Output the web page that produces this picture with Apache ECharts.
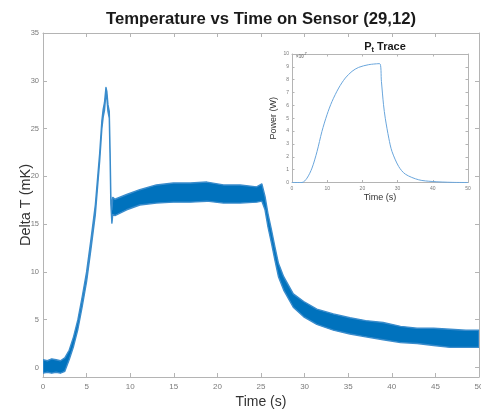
<!DOCTYPE html>
<html><head><meta charset="utf-8">
<script src="https://cdn.jsdelivr.net/npm/echarts@6/dist/echarts.min.js"></script>
<style>html,body{margin:0;padding:0;background:#fff}#c{width:481px;height:413px}</style>
</head><body><div id="c"></div>
<script>
// ---- Main trace: time (s) and the lower / upper edges of the noisy band (mK)
const time = [0,0.5,1,1.5,2,2.5,3,3.5,4,4.5,5,5.5,6,6.5,6.75,6.9,7.05,7.22,7.32,7.45,7.6,7.7,7.78,7.9,8.0,8.25,9.6,11.1,13,14.95,16.9,18.8,20.7,22.6,24.5,25.1,25.46,25.8,26.2,26.6,27.0,27.6,28.7,29.9,31.4,33.3,35.2,37,39,41,42.9,44.8,46.7,48.5,50];
const lowerT = [-0.6,-0.5,-0.6,-0.5,-0.6,-0.4,0.8,2.2,4.0,6.4,9.0,12.4,16.0,21.6,25.0,26.2,26.9,28.7,28.2,26.8,26.1,21.6,17.1,15.1,16.0,15.9,16.5,17.0,17.2,17.3,17.3,17.4,17.2,17.2,17.3,17.4,16.5,14.7,13.0,11.2,9.5,8.1,6.3,5.3,4.5,3.9,3.5,3.2,2.9,2.6,2.5,2.3,2.1,2.1,2.1];
const upperT = [0.8,0.7,0.9,0.8,0.7,1.0,1.8,3.2,5.0,7.4,10.0,13.4,17.0,22.4,25.8,27.0,27.7,29.3,28.9,27.5,26.8,22.4,18.0,16.5,17.8,17.6,18.1,18.6,19.1,19.3,19.3,19.4,19.1,19.1,18.9,19.2,17.9,16.1,14.4,12.6,10.9,9.5,7.7,6.9,6.1,5.6,5.2,4.9,4.7,4.3,4.1,4.1,4.0,3.9,3.9];
const yTicks = [0,5,10,15,20,25,30,35];
// ---- Inset: P_t trace, time (s) and power (x 1e-7 W)
const insetTime = [0,2.84,4.26,5.68,7.1,8.5,9.94,11.36,13.26,15.15,17.05,18.94,21.8,24.9,25.4,26.0,26.5,27.5,28.4,30.3,32.2,36.0,39.8,45.5,50];
const insetPower = [0,0,0.34,1.12,2.4,3.97,5.27,6.3,7.35,8.13,8.65,8.96,9.17,9.25,7.87,6.05,5.0,3.45,2.42,1.25,0.65,0.21,0.08,0.01,0];

const titleText = 'Temperature vs Time on Sensor (29,12)';
const xName = 'Time (s)';
const yName = 'Delta T (mK)';

const blue = '#0072BD';
const axisGray = '#b4b4b4';
const labelGray = '#7a7a7a';
const FONT = 'Liberation Sans, Arial, sans-serif';

const insetData = insetTime.map((t,i)=>[t, insetPower[i]]);

const chart = echarts.init(document.getElementById('c'), null, {renderer:'canvas'});

function mirrorAxis(extra){
  return Object.assign({
    type:'value', axisLine:{show:true,onZero:false,lineStyle:{color:axisGray,width:1}},
    axisTick:{show:true,inside:true,length:4,lineStyle:{color:axisGray}},
    axisLabel:{show:false}, splitLine:{show:false}
  }, extra);
}

// band polygon through the library's scales: upper edge forward, lower edge back
function renderBand(params, api){
  if (params.dataIndex !== 0) return null;
  const pts = [];
  for (let i=0;i<time.length;i++) pts.push(api.coord([time[i], upperT[i]]));
  for (let i=time.length-1;i>=0;i--) pts.push(api.coord([time[i], lowerT[i]]));
  return {type:'polygon', shape:{points:pts},
    style:{fill:blue, stroke:'#3a8ccc', lineWidth:1.4, lineJoin:'round'}};
}

chart.setOption({
  animation:false,
  backgroundColor:'#fff',
  title:[
    {text:titleText, left:256, top:6, textAlign:'center',
     textStyle:{fontFamily:FONT,fontSize:16.7,fontWeight:'bold',color:'#1a1a1a'}},
    {text:'{p|P}{s|t}{p| Trace}', left:380, top:35, textAlign:'center',
     textStyle:{rich:{
       p:{fontFamily:FONT,fontSize:11,fontWeight:'bold',color:'#1a1a1a',lineHeight:14,verticalAlign:'middle'},
       s:{fontFamily:FONT,fontSize:7.5,fontWeight:'bold',color:'#1a1a1a',lineHeight:14,verticalAlign:'bottom'}
     }}},
    {text:'{a|×10}{b|-7}', left:291, top:47,
     textStyle:{rich:{
       a:{fontFamily:FONT,fontSize:4.5,color:labelGray,lineHeight:7,verticalAlign:'bottom'},
       b:{fontFamily:FONT,fontSize:3.5,color:labelGray,lineHeight:7,verticalAlign:'top'}
     }}}
  ],
  grid:[
    {left:43, right:2, top:33, bottom:36, show:false, outerBoundsMode:'none', containLabel:false},
    {left:292, right:13, top:54, bottom:230.5, show:false, outerBoundsMode:'none', containLabel:false}
  ],
  xAxis:[
    {type:'value', gridIndex:0, min:0, max:50, interval:5, position:'bottom',
     name:xName, nameLocation:'middle', nameGap:18, nameMoveOverlap:false,
     nameTextStyle:{fontFamily:FONT,fontSize:14,color:'#333', verticalAlign:'top'},
     axisLine:{show:true,onZero:false,lineStyle:{color:axisGray}},
     axisTick:{show:true,inside:true,length:4,lineStyle:{color:axisGray}},
     axisLabel:{show:true,margin:6,fontSize:8,color:labelGray,fontFamily:FONT,hideOverlap:false},
     splitLine:{show:false}},
    mirrorAxis({gridIndex:0,min:0,max:50,interval:5,position:'top'}),
    {type:'value', gridIndex:1, min:0, max:50, interval:10, position:'bottom',
     name:xName, nameLocation:'middle', nameGap:11, nameMoveOverlap:false,
     nameTextStyle:{fontFamily:FONT,fontSize:9,color:'#333', verticalAlign:'top'},
     axisLine:{show:true,onZero:false,lineStyle:{color:axisGray}},
     axisTick:{show:true,inside:true,length:2.5,lineStyle:{color:axisGray}},
     axisLabel:{show:true,margin:4,fontSize:5,color:labelGray,fontFamily:FONT},
     splitLine:{show:false}},
    mirrorAxis({gridIndex:1,min:0,max:50,interval:10,position:'top',axisTick:{show:true,inside:true,length:2.5,lineStyle:{color:axisGray}}})
  ],
  yAxis:[
    {type:'value', gridIndex:0, min:-1, max:35, position:'left',
     name:yName, nameLocation:'middle', nameGap:10, nameRotate:90, nameMoveOverlap:false,
     nameTextStyle:{fontFamily:FONT,fontSize:14.5,color:'#333'},
     axisLine:{show:true,onZero:false,lineStyle:{color:axisGray}},
     axisTick:{show:true,inside:true,length:4,lineStyle:{color:axisGray},customValues:yTicks},
     axisLabel:{show:true,margin:4,fontSize:7.5,color:labelGray,fontFamily:FONT,customValues:yTicks},
     splitLine:{show:false}},
    mirrorAxis({gridIndex:0,min:-1,max:35,position:'right',
     axisTick:{show:true,inside:true,length:4,lineStyle:{color:axisGray},customValues:yTicks}}),
    {type:'value', gridIndex:1, min:0, max:10, interval:1, position:'left',
     name:'Power (W)', nameLocation:'middle', nameGap:14, nameRotate:90, nameMoveOverlap:false,
     nameTextStyle:{fontFamily:FONT,fontSize:9,color:'#333'},
     axisLine:{show:true,onZero:false,lineStyle:{color:axisGray}},
     axisTick:{show:true,inside:true,length:2.5,lineStyle:{color:axisGray}},
     axisLabel:{show:true,margin:3,fontSize:5,color:labelGray,fontFamily:FONT},
     splitLine:{show:false}},
    mirrorAxis({gridIndex:1,min:0,max:10,interval:1,position:'right',axisTick:{show:true,inside:true,length:2.5,lineStyle:{color:axisGray}}})
  ],
  series:[
    {type:'custom', coordinateSystem:'cartesian2d', xAxisIndex:0, yAxisIndex:0,
     data:[[time[0], lowerT[0]]], renderItem:renderBand, clip:true, z:3},
    {type:'line', xAxisIndex:2, yAxisIndex:2, data:insetData, symbol:'none', smooth:0.3,
     lineStyle:{color:'#6aa6dc',width:1}, z:3}
  ]
});
</script></body></html>
